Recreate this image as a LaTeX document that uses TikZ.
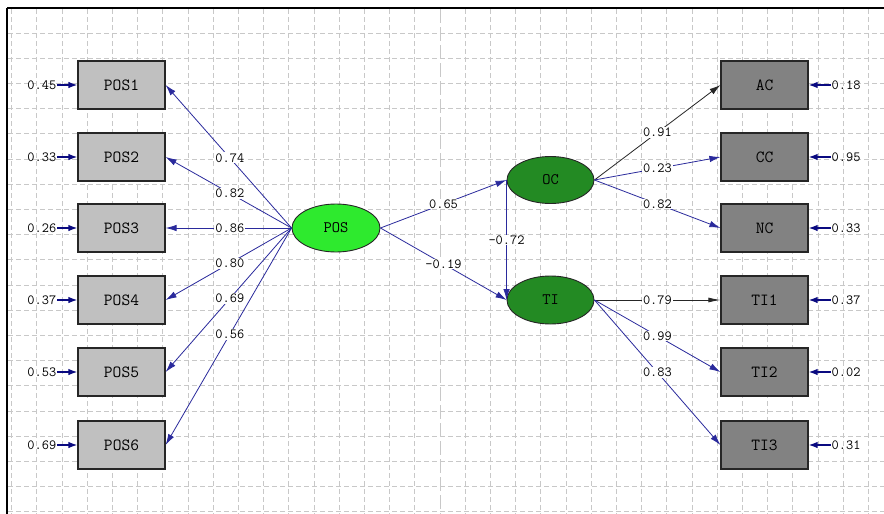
\documentclass[tikz,border=0pt]{standalone}
\usetikzlibrary{arrows.meta,shapes.geometric}
\definecolor{pathblue}{HTML}{2A2A9C}
\definecolor{errblue}{HTML}{0A0A80}
\definecolor{gridgray}{HTML}{C8C8C8}
\definecolor{lightbox}{HTML}{C0C0C0}
\definecolor{darkbox}{HTML}{828282}
\definecolor{posgreen}{HTML}{2EEA2E}
\definecolor{latgreen}{HTML}{238A23}
\tikzset{
  gridline/.style={gridgray, line width=1pt, dash pattern=on 4.5pt off 3.5pt},
  centerline/.style={gridgray, line width=1.2pt, dash pattern=on 14pt off 4pt},
  obsL/.style={draw=black!85, line width=1.2pt, fill=lightbox, minimum width=87pt, minimum height=48pt, inner sep=0pt, text=black, font=\ttfamily\fontsize{17}{17}\selectfont},
  obsR/.style={obsL, fill=darkbox},
  latent/.style={draw=black!85, line width=0.9pt, ellipse, minimum width=88pt, minimum height=48pt, inner sep=0pt, text=black, font=\ttfamily\fontsize{16}{16}\selectfont},
  lbl/.style={fill=white, inner sep=1pt, text=black, font=\ttfamily\fontsize{14}{14}\selectfont},
  errlbl/.style={inner sep=0.5pt, text=black, font=\ttfamily\fontsize{14}{14}\selectfont},
  pathb/.style={pathblue, line width=0.8pt, -{Latex[length=11pt,width=6.5pt]}},
  pathk/.style={black!85, line width=0.8pt, -{Latex[length=11pt,width=6.5pt]}},
  pathkbar/.style={black!85, line width=0.8pt, -{Latex[length=12pt,width=5pt]}},
  errarr/.style={errblue, line width=1.4pt, -{Latex[length=9pt,width=6.5pt]}},
}
\begin{document}
\begin{tikzpicture}[x=1pt,y=-1pt]
\useasboundingbox (0,0) rectangle (884,514);
\fill[white] (0,0) rectangle (884,514);
% grid
\foreach \k in {0,...,34}{
  \pgfmathsetmacro{\xx}{11.7+25.2*\k}
  \ifnum\k=17
    \draw[centerline] (\xx,9) -- (\xx,514);
  \else
    \draw[gridline] (\xx,9) -- (\xx,514);
  \fi
}
\foreach \k in {0,...,19}{
  \pgfmathsetmacro{\yy}{33+25.2*\k}
  \draw[gridline] (8,\yy) -- (884,\yy);
}
% frame
\draw[black, line width=2.6pt] (7,8) -- (884,8);
\draw[black, line width=2.6pt] (7,8) -- (7,514);

% observed left
\node[obsL] (p1) at (121.5,85) {POS1};
\node[obsL] (p2) at (121.5,157) {POS2};
\node[obsL] (p3) at (121.5,228) {POS3};
\node[obsL] (p4) at (121.5,300) {POS4};
\node[obsL] (p5) at (121.5,372) {POS5};
\node[obsL] (p6) at (121.5,445) {POS6};
% observed right
\node[obsR] (ac) at (764.5,85) {AC};
\node[obsR] (cc) at (764.5,157) {CC};
\node[obsR] (nc) at (764.5,228) {NC};
\node[obsR] (t1) at (764.5,300) {TI1};
\node[obsR] (t2) at (764.5,372) {TI2};
\node[obsR] (t3) at (764.5,445) {TI3};
% latent
\node[latent, fill=posgreen] (pos) at (336,228) {POS};
\node[latent, fill=latgreen, minimum width=87pt, minimum height=47pt] (oc) at (550.5,180) {OC};
\node[latent, fill=latgreen, minimum width=87pt, minimum height=48pt] (ti) at (550.5,300) {TI};

% loadings POS
\draw[pathb] (pos.west) -- node[lbl,pos=0.49]{0.74} (p1.east);
\draw[pathb] (pos.west) -- node[lbl,pos=0.49]{0.82} (p2.east);
\draw[pathb] (pos.west) -- node[lbl,pos=0.49]{0.86} (p3.east);
\draw[pathb] (pos.west) -- node[lbl,pos=0.49]{0.80} (p4.east);
\draw[pathb] (pos.west) -- node[lbl,pos=0.49]{0.69} (p5.east);
\draw[pathb] (pos.west) -- node[lbl,pos=0.49]{0.56} (p6.east);
% structural
\draw[pathb] (pos.east) -- node[lbl,pos=0.5]{0.65} (oc.west);
\draw[pathb] (pos.east) -- node[lbl,pos=0.5]{-0.19} (ti.west);
\draw[pathb] (oc.west) -- node[lbl,pos=0.5]{-0.72} (ti.west);
% loadings OC
\draw[pathk] (oc.east) -- node[lbl,pos=0.5]{0.91} (ac.west);
\draw[pathb] (oc.east) -- node[lbl,pos=0.5]{0.23} (cc.west);
\draw[pathb] (oc.east) -- node[lbl,pos=0.5]{0.82} (nc.west);
% loadings TI
\draw[pathkbar] (ti.east) -- node[lbl,pos=0.5]{0.79} (t1.west);
\draw[pathb] (ti.east) -- node[lbl,pos=0.5]{0.99} (t2.west);
\draw[pathb] (ti.east) -- node[lbl,pos=0.5]{0.83} (t3.west);

% error terms left
\node[errlbl, anchor=east] (e1) at (57,85) {0.45};
\node[errlbl, anchor=east] (e2) at (57,157) {0.33};
\node[errlbl, anchor=east] (e3) at (57,228) {0.26};
\node[errlbl, anchor=east] (e4) at (57,300) {0.37};
\node[errlbl, anchor=east] (e5) at (57,372) {0.53};
\node[errlbl, anchor=east] (e6) at (57,445) {0.69};
\foreach \i in {1,...,6}{\draw[errarr] (e\i.east) -- (p\i.west);}
% error terms right
\node[errlbl, anchor=west] (r1) at (831,85) {0.18};
\node[errlbl, anchor=west] (r2) at (831,157) {0.95};
\node[errlbl, anchor=west] (r3) at (831,228) {0.33};
\node[errlbl, anchor=west] (r4) at (831,300) {0.37};
\node[errlbl, anchor=west] (r5) at (831,372) {0.02};
\node[errlbl, anchor=west] (r6) at (831,445) {0.31};
\draw[errarr] (r1.west) -- (ac.east);
\draw[errarr] (r2.west) -- (cc.east);
\draw[errarr] (r3.west) -- (nc.east);
\draw[errarr] (r4.west) -- (t1.east);
\draw[errarr] (r5.west) -- (t2.east);
\draw[errarr] (r6.west) -- (t3.east);
\end{tikzpicture}
\end{document}
